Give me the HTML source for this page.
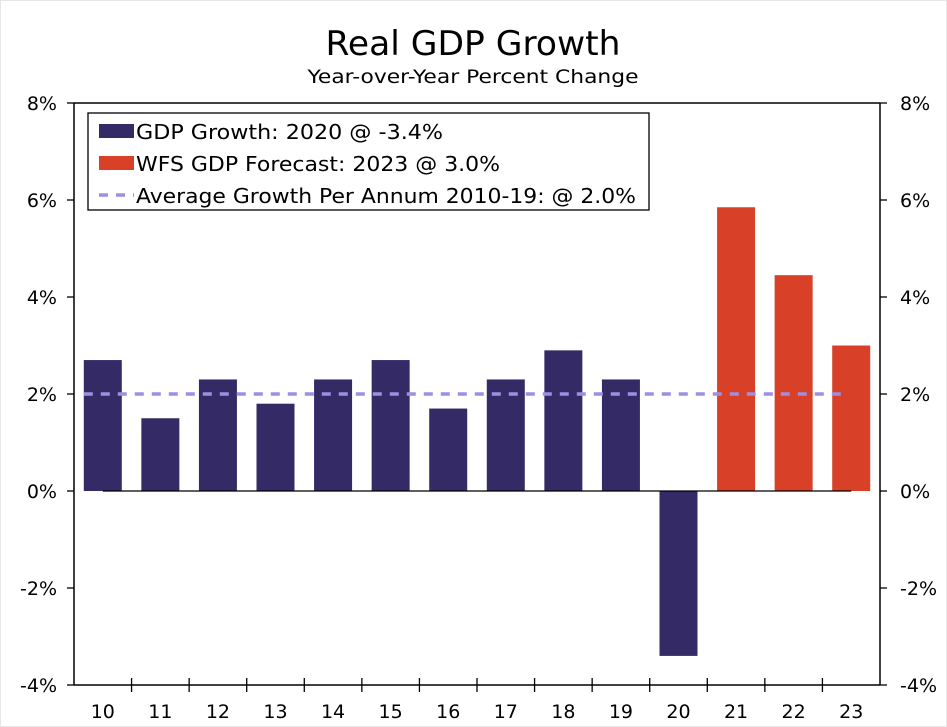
<!DOCTYPE html>
<html><head><meta charset="utf-8">
<style>
body{margin:0;background:#fff;}
svg{display:block;font-family:"DejaVu Sans","Liberation Sans",sans-serif;}
</style></head>
<body>
<svg id="chart" width="947" height="727" viewBox="0 0 947 727">
<rect x="0.5" y="0.5" width="946" height="726" fill="#fff" stroke="#e6e6e6"/>
<text x="473" y="55" text-anchor="middle" font-size="34" fill="#000" textLength="295" lengthAdjust="spacingAndGlyphs">Real GDP Growth</text>
<text x="473" y="83" text-anchor="middle" font-size="19" fill="#000" textLength="331" lengthAdjust="spacingAndGlyphs">Year-over-Year Percent Change</text>
<g id="plot"></g>
<g>
<rect x="88" y="113" width="561" height="97" fill="#fff" stroke="#000" stroke-width="1.3"/>
<rect x="99" y="124" width="35" height="14" fill="#342a66"/>
<text x="136" y="139" font-size="20" textLength="307" lengthAdjust="spacingAndGlyphs">GDP Growth: 2020 @ -3.4%</text>
<rect x="99" y="156" width="35" height="14" fill="#d84027"/>
<text x="136" y="171" font-size="20" textLength="364" lengthAdjust="spacingAndGlyphs">WFS GDP Forecast: 2023 @ 3.0%</text>
<line x1="99" y1="195" x2="134" y2="195" stroke="#a08ee0" stroke-width="3.5" stroke-dasharray="9,8"/>
<text x="136" y="203" font-size="20" textLength="500" lengthAdjust="spacingAndGlyphs">Average Growth Per Annum 2010-19: @ 2.0%</text>
</g>
</svg>
<script>
const categories=["10","11","12","13","14","15","16","17","18","19","20","21","22","23"];
const gdpValues=[2.7,1.5,2.3,1.8,2.3,2.7,1.7,2.3,2.9,2.3,-3.4,null,null,null];
const forecastValues=[null,null,null,null,null,null,null,null,null,null,null,5.85,4.45,3.0];
const averageValue=2.0;
const yTicks=[-4,-2,0,2,4,6,8];
const yTickLabels=["-4%","-2%","0%","2%","4%","6%","8%"];

const NS="http://www.w3.org/2000/svg";
const L=74,R=880,T=103,B=685,yMin=-4,yMax=8;
const step=(R-L)/categories.length;
function y(v){return B-(v-yMin)/(yMax-yMin)*(B-T);}
function xc(i){return L+step*(i+0.5);}
const g=document.getElementById('plot');
function mk(tag,attrs){const e=document.createElementNS(NS,tag);for(const k in attrs)e.setAttribute(k,attrs[k]);g.appendChild(e);return e;}

function drawBars(arr,color,name){
arr.forEach((v,i)=>{if(v==null)return;
const bw=38;
const e=mk('rect',{x:xc(i)-bw/2,y:Math.min(y(v),y(0)),width:bw,height:Math.abs(y(v)-y(0)),fill:color});


});}
drawBars(gdpValues,'#342a66','bar-gdp');
drawBars(forecastValues,'#d84027','bar-forecast');

let z=mk('line',{x1:xc(0),x2:xc(categories.length-1),y1:y(0),y2:y(0),stroke:'#000','stroke-width':1.3});



let a=mk('line',{x1:xc(0)-19,x2:xc(categories.length-1)-5,y1:y(averageValue),y2:y(averageValue),stroke:'#a08ee0','stroke-width':3.5,'stroke-dasharray':'9,8'});



[[L,T,R,T,'top-border'],[L,T,L,B,'left-axis'],[R,T,R,B,'right-axis'],[L,B,R,B,'x-axis']].forEach(s=>{
const e=mk('line',{x1:s[0],y1:s[1],x2:s[2],y2:s[3],stroke:'#000','stroke-width':1.5});


});
yTicks.forEach((v,i)=>{
const yy=y(v);
const t1=mk('line',{x1:L-7,x2:L,y1:yy,y2:yy,stroke:'#000','stroke-width':1.3});


const t2=mk('line',{x1:R,x2:R+7,y1:yy,y2:yy,stroke:'#000','stroke-width':1.3});


const l1=mk('text',{x:L-17,y:yy+7,'text-anchor':'end','font-size':19});
l1.textContent=yTickLabels[i];


const l2=mk('text',{x:R+20,y:yy+7,'text-anchor':'start','font-size':19});
l2.textContent=yTickLabels[i];


});
for(let i=1;i<categories.length;i++){
const xx=L+step*i;
const t=mk('line',{x1:xx,x2:xx,y1:B-7,y2:B+7,stroke:'#000','stroke-width':1.3});


}
categories.forEach((c,i)=>{
const t=mk('text',{x:xc(i),y:B+33,'text-anchor':'middle','font-size':19});
t.textContent=c;


});
</script>
</body></html>
